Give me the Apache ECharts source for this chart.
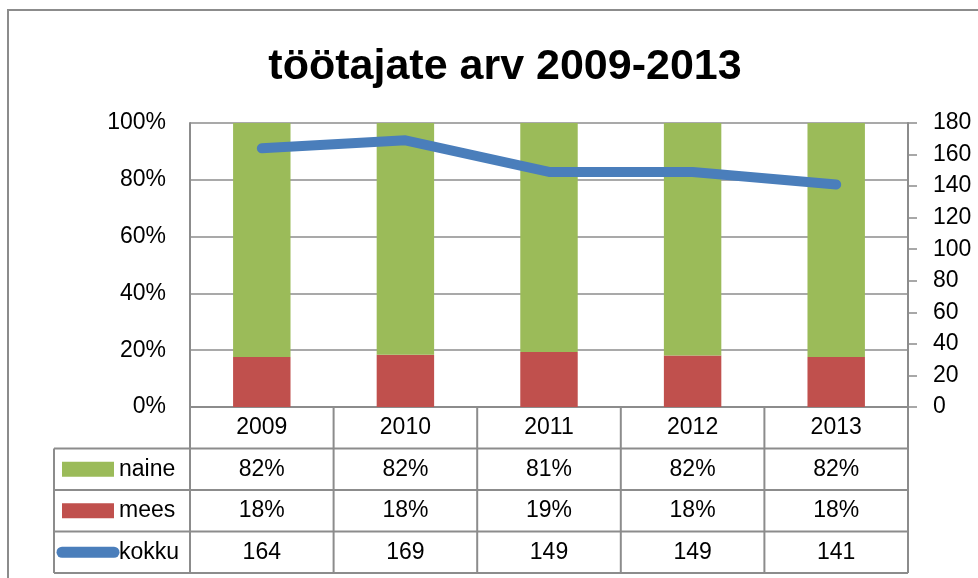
<!DOCTYPE html>
<html>
<head>
<meta charset="utf-8">
<script src="https://cdn.jsdelivr.net/npm/echarts@6/dist/echarts.min.js"></script>
<style>
  html, body { margin: 0; padding: 0; background: #fff; }
  #main { width: 978px; height: 578px; }
</style>
</head>
<body>
<div id="main"></div>
<script>
// data
const years = ['2009', '2010', '2011', '2012', '2013'];
const naine = [82.4, 81.6, 80.6, 81.9, 82.4];
const mees = [17.6, 18.4, 19.4, 18.1, 17.6];
const kokku = [164, 169, 149, 149, 141];

const FONT = 'Liberation Sans';
const FS = 23;
const GRAY = '#8c8c8c';
const W = 978, H = 578;
const GRID = { left: 190, right: 70, top: 123, bottom: 171 };

// table geometry, derived from the grid
const plotL = GRID.left, plotR = W - GRID.right, plotB = H - GRID.bottom;
const colW = (plotR - plotL) / years.length;
const tableL = 54;
const rowH = 41.5;

const rows = [
  { name: 'naine', color: '#9BBB59', key: 'rect', values: naine.map(v => Math.round(v) + '%') },
  { name: 'mees', color: '#C0504D', key: 'rect', values: mees.map(v => Math.round(v) + '%') },
  { name: 'kokku', color: '#4A7EBB', key: 'line', values: kokku.map(v => String(v)) }
];

function txt(text, x, y, align) {
  return {
    type: 'text', silent: true, z: 10,
    style: {
      text: text, x: x, y: y,
      align: align, textAlign: align,
      verticalAlign: 'middle', textVerticalAlign: 'middle',
      fontSize: FS, fontFamily: FONT, fill: '#000'
    }
  };
}
function ln(x1, y1, x2, y2) {
  return {
    type: 'line', silent: true, z: 5,
    shape: { x1: x1, y1: y1, x2: x2, y2: y2 },
    style: { stroke: GRAY, lineWidth: 2 }
  };
}

const graphics = [];
// outer chart border
graphics.push({
  type: 'rect', silent: true,
  shape: { x: 8, y: 10, width: 1000, height: 600 },
  style: { fill: 'none', stroke: GRAY, lineWidth: 2 }
});
// table lines
const tableB = plotB + rowH * (rows.length + 1);
for (let r = 1; r <= rows.length + 1; r++) {
  const y = plotB + rowH * r;
  graphics.push(ln(tableL, y, plotR, y));
}
graphics.push(ln(tableL, plotB + rowH, tableL, tableB));
for (let c = 0; c <= years.length; c++) {
  const x = plotL + colW * c;
  graphics.push(ln(x, plotB, x, tableB));
}
// table rows: legend key, name, values
rows.forEach((row, r) => {
  const cy = plotB + rowH * (r + 1) + rowH / 2;
  if (row.key === 'rect') {
    graphics.push({
      type: 'rect', silent: true, z: 10,
      shape: { x: 62, y: cy - 7.5, width: 52, height: 15 },
      style: { fill: row.color }
    });
  } else {
    graphics.push({
      type: 'line', silent: true, z: 10,
      shape: { x1: 62, y1: cy, x2: 114, y2: cy },
      style: { stroke: row.color, lineWidth: 11, lineCap: 'round' }
    });
  }
  graphics.push(txt(row.name, 119, cy, 'left'));
  row.values.forEach((v, c) => {
    graphics.push(txt(v, plotL + colW * (c + 0.5), cy, 'center'));
  });
});

const chart = echarts.init(document.getElementById('main'), null, { renderer: 'canvas' });
chart.setOption({
  animation: false,
  backgroundColor: '#fff',
  textStyle: { fontFamily: FONT },
  title: {
    text: 'töötajate arv 2009-2013',
    left: 500, top: 41, textAlign: 'center',
    textStyle: { fontFamily: FONT, fontSize: 43, fontWeight: 'bold', color: '#000' }
  },
  grid: { left: GRID.left, right: GRID.right, top: GRID.top, bottom: GRID.bottom, containLabel: false },
  xAxis: {
    type: 'category',
    data: years,
    axisLine: { show: true, lineStyle: { color: GRAY, width: 2 } },
    axisTick: { show: false },
    axisLabel: { margin: 9, fontSize: FS, fontFamily: FONT, color: '#000' }
  },
  yAxis: [
    {
      type: 'value', min: 0, max: 100, interval: 20,
      axisLine: { show: true, lineStyle: { color: GRAY, width: 2 } },
      axisTick: { show: false },
      axisLabel: { margin: 24, fontSize: FS, fontFamily: FONT, color: '#000', formatter: '{value}%' },
      splitLine: { show: true, lineStyle: { color: GRAY, width: 1.5 } }
    },
    {
      type: 'value', min: 0, max: 180, interval: 20, position: 'right',
      axisLine: { show: true, lineStyle: { color: GRAY, width: 2 } },
      axisTick: { show: true, inside: false, length: 9, lineStyle: { color: GRAY, width: 1.5 } },
      axisLabel: { margin: 25, fontSize: FS, fontFamily: FONT, color: '#000' },
      splitLine: { show: false }
    }
  ],
  series: [
    {
      name: 'mees', type: 'bar', stack: 'total', data: mees,
      barWidth: '40%', itemStyle: { color: '#C0504D' }, z: 2
    },
    {
      name: 'naine', type: 'bar', stack: 'total', data: naine,
      barWidth: '40%', itemStyle: { color: '#9BBB59' }, z: 2
    },
    {
      name: 'kokku', type: 'line', yAxisIndex: 1, data: kokku,
      symbol: 'none', z: 3,
      lineStyle: { color: '#4A7EBB', width: 10, cap: 'round', join: 'round' }
    }
  ],
  graphic: graphics
});
</script>
</body>
</html>
